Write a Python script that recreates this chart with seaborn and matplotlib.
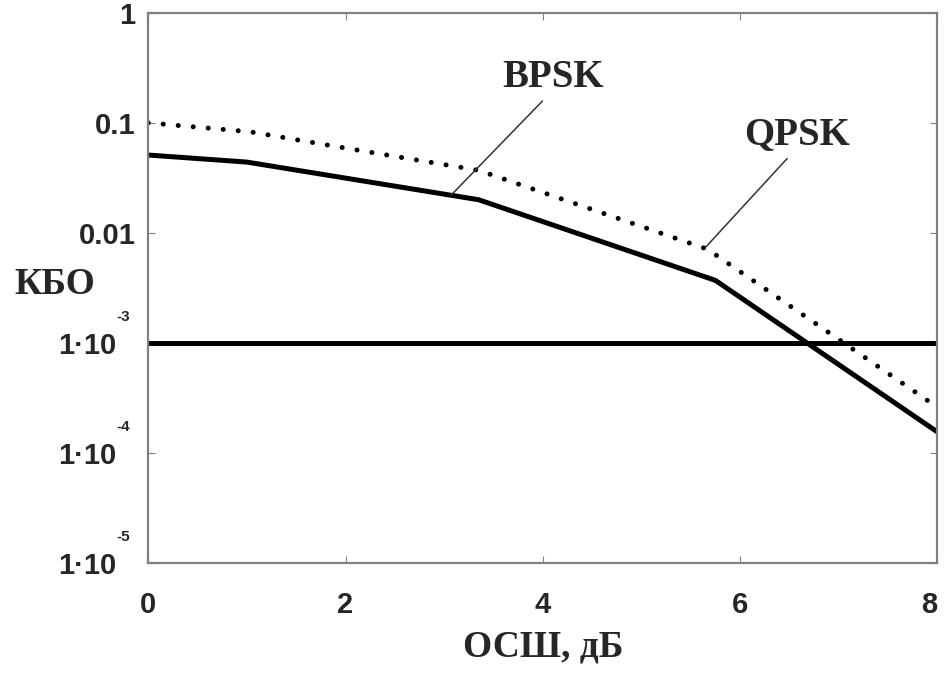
import matplotlib
matplotlib.use('Agg')
import matplotlib.pyplot as plt
import matplotlib.transforms as mtrans
import seaborn as sns

# values
snr_bpsk = [0, 1, 3.35, 5.75, 8]
ber_bpsk = [0.051, 0.044, 0.020, 0.0037, 1.55e-4]

snr_qpsk = [0, 1.03, 1.95, 3.35, 5.67, 8]
ber_qpsk = [0.10, 0.083, 0.060, 0.037, 0.0071, 2.6e-4]

ber_limit = 1e-3

y_ticks = [1, 0.1, 0.01, 1e-3, 1e-4, 1e-5]
y_labels = ['1', '0.1', '0.01', '1·10', '1·10', '1·10']
y_exps = {1e-3: '-3', 1e-4: '-4', 1e-5: '-5'}
x_ticks = [0, 2, 4, 6, 8]

sns.set_style('white')
plt.rcParams['font.family'] = ['Liberation Sans', 'DejaVu Sans']

fig = plt.figure(figsize=(9.44, 6.75), dpi=100)
ax = fig.add_axes([0.157, 0.166, 0.836, 0.815])

sns.lineplot(x=snr_qpsk, y=ber_qpsk, ax=ax, color='black', lw=3.6,
             linestyle=(0, (0.01, 3.0)), dash_capstyle='round')
sns.lineplot(x=snr_bpsk, y=ber_bpsk, ax=ax, color='black', lw=3.6)
ax.axhline(ber_limit, color='black', lw=3.6)

ax.set_yscale('log')
ax.set_xlim(0, 8)
ax.set_ylim(1e-5, 1)
ax.minorticks_off()

ax.set_yticks(y_ticks)
ax.set_yticklabels(y_labels, fontsize=21, fontweight='bold')
ax.set_xticks(x_ticks)
ax.set_xticklabels([str(t) for t in x_ticks], fontsize=21, fontweight='bold')
ax.tick_params(axis='y', direction='in', length=5, color='#808080', pad=9,
               right=True, left=True)
ax.tick_params(axis='x', direction='in', length=5, color='#808080', pad=20,
               top=True, bottom=True)

# the 1·10 labels sit further left to leave room for the exponent
for lbl in ax.get_yticklabels()[3:]:
    lbl.set_transform(lbl.get_transform() +
                      mtrans.ScaledTranslation(-14 / 72, 0, fig.dpi_scale_trans))
last = ax.get_xticklabels()[-1]
last.set_transform(last.get_transform() +
                   mtrans.ScaledTranslation(-6 / 72, 0, fig.dpi_scale_trans))

for val, ex in y_exps.items():
    ax.annotate(ex, xy=(0, val), xycoords=('axes fraction', 'data'),
                xytext=(-18, 19), textcoords='offset points',
                fontsize=11, fontweight='bold', ha='center', va='center')

for s in ax.spines.values():
    s.set_color('#808080')
    s.set_linewidth(1.6)

serif = ['Liberation Serif', 'DejaVu Serif']
ax.set_xlabel('ОСШ, дБ', fontsize=27, fontweight='bold', family=serif, labelpad=8)
fig.text(0.058, 0.578, 'КБО', fontsize=27, fontweight='bold', family=serif,
         ha='center', va='center')

ax.annotate('BPSK', xy=(3.07, 0.022), xytext=(4.10, 0.26),
            fontsize=28, fontweight='bold', family=serif, ha='center', va='center',
            arrowprops=dict(arrowstyle='-', color='#333333', lw=1.1, shrinkA=2,
                            shrinkB=0, relpos=(0.45, 0.0)))
ax.annotate('QPSK', xy=(5.65, 0.0074), xytext=(6.58, 0.078),
            fontsize=28, fontweight='bold', family=serif, ha='center', va='center',
            arrowprops=dict(arrowstyle='-', color='#333333', lw=1.1, shrinkA=2,
                            shrinkB=0, relpos=(0.45, 0.0)))

fig.savefig('out.png', dpi=100)
